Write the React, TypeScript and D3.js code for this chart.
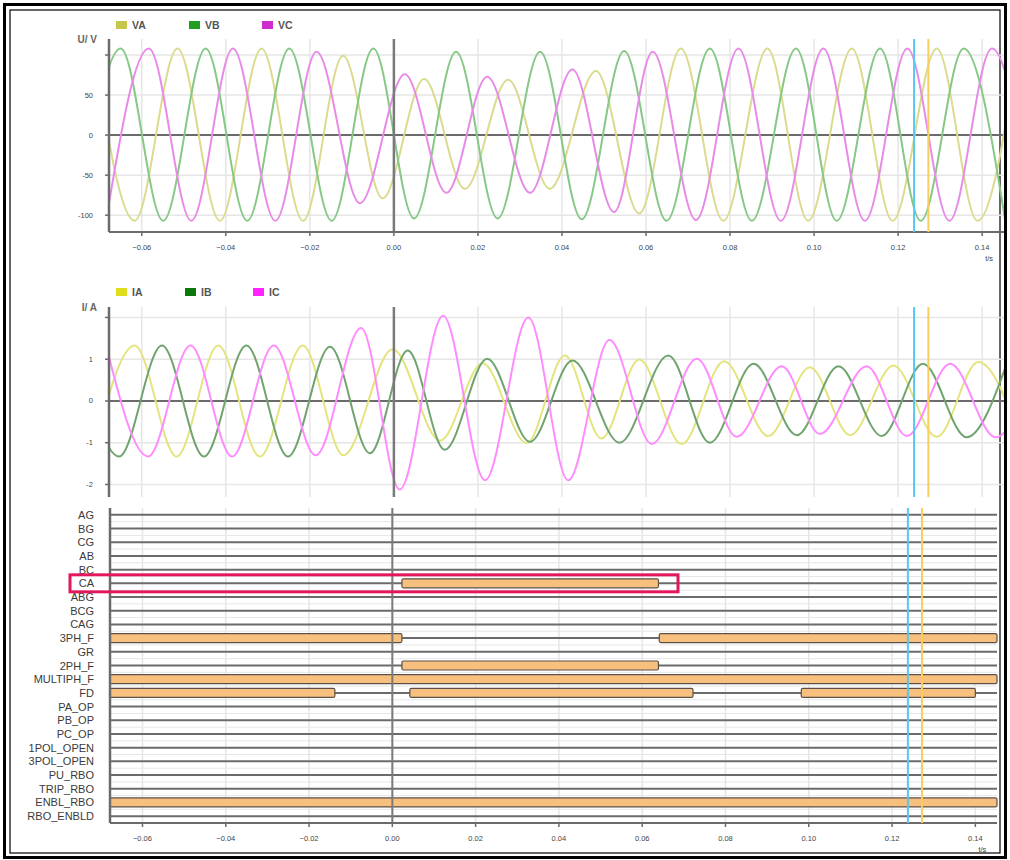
import React, { useRef, useEffect } from "react";
import * as d3 from "d3";

// record window and time axis (s)
const tRange: [number, number] = [-0.0678, 0.1452];
const timeTicks = [-0.06, -0.04, -0.02, 0, 0.02, 0.04, 0.06, 0.08, 0.1, 0.12, 0.14];
const cursorTimes = [0.1238, 0.1272];

// voltage waveforms: peaks and troughs [t, V]
const VA: [number, number][] = [
  [-0.0715, 108], [-0.0617, -107], [-0.0515, 108], [-0.0414, -107], [-0.0315, 108], [-0.0216, -107],
  [-0.0121, 99], [-0.0027, -79], [0.0072, 70], [0.0169, -67], [0.0272, 69], [0.0371, -67],
  [0.0481, 80], [0.0584, -98], [0.0683, 108], [0.0784, -107], [0.0889, 108], [0.0986, -107],
  [0.109, 108], [0.1187, -107], [0.1292, 108], [0.1389, -107], [0.1485, 108],
];
const VB: [number, number][] = [
  [-0.075, -107], [-0.065, 108], [-0.0549, -107], [-0.0448, 108], [-0.0349, -107], [-0.0249, 108],
  [-0.0148, -107], [-0.0049, 108], [0.0048, -104], [0.0148, 104], [0.0247, -104], [0.0348, 104],
  [0.0447, -105], [0.0548, 105], [0.0649, -107], [0.0752, 108], [0.0852, -107], [0.0957, 108],
  [0.1054, -107], [0.1157, 108], [0.1254, -107], [0.1356, 108], [0.1455, -107],
];
const VC: [number, number][] = [
  [-0.0685, -107], [-0.0583, 108], [-0.0482, -107], [-0.0383, 108], [-0.0282, -107], [-0.0184, 104],
  [-0.0081, -85], [0.0026, 76], [0.0125, -72], [0.0222, 73], [0.0324, -72], [0.0425, 82],
  [0.0524, -96], [0.0616, 104], [0.0719, -106], [0.082, 108], [0.0921, -107], [0.1022, 108],
  [0.1121, -107], [0.1222, 108], [0.1322, -107], [0.1423, 108], [0.1523, -107],
];

// current waveforms [t, A]
const IA: [number, number][] = [
  [-0.0717, -1.33], [-0.0617, 1.33], [-0.0517, -1.33], [-0.0418, 1.33], [-0.0319, -1.33], [-0.0217, 1.33],
  [-0.012, -1.3], [-0.0003, 1.24], [0.011, -0.95], [0.0211, 0.9], [0.0316, -1.01], [0.0407, 1.09],
  [0.0494, -0.9], [0.0584, 0.99], [0.0685, -1.03], [0.0786, 0.95], [0.0891, -0.84], [0.099, 0.81],
  [0.1086, -0.82], [0.1189, 0.85], [0.1292, -0.86], [0.1391, 0.93], [0.149, -0.86],
];
const IB: [number, number][] = [
  [-0.0754, 1.33], [-0.0654, -1.33], [-0.0552, 1.33], [-0.0452, -1.33], [-0.0351, 1.33], [-0.0252, -1.33],
  [-0.0152, 1.3], [-0.0057, -1.25], [0.0033, 1.21], [0.0121, -1.17], [0.0222, 1.01], [0.0324, -0.98],
  [0.0425, 0.97], [0.0537, -1.0], [0.0653, 1.09], [0.0752, -1.0], [0.0856, 0.89], [0.0959, -0.82],
  [0.1058, 0.83], [0.1161, -0.84], [0.1259, 0.89], [0.1363, -0.87], [0.146, 0.93],
];
const IC: [number, number][] = [
  [-0.0685, 1.33], [-0.0585, -1.33], [-0.0484, 1.33], [-0.0385, -1.33], [-0.0286, 1.33], [-0.0186, -1.3],
  [-0.0078, 1.75], [0.0014, -2.12], [0.0117, 2.04], [0.0217, -1.9], [0.032, 2.0], [0.0415, -1.9],
  [0.0513, 1.46], [0.0614, -1.03], [0.0721, 1.01], [0.0816, -0.86], [0.0923, 0.83], [0.1014, -0.79],
  [0.1125, 0.83], [0.1221, -0.84], [0.1324, 0.89], [0.1432, -0.87], [0.153, 0.9],
];

const voltNames = ["VA", "VB", "VC"];
const voltTicks = [-100, -50, 0, 50, 100];
const voltLabels = ["-100", "-50", "0", "50", ""];
const currNames = ["IA", "IB", "IC"];
const currTicks = [-2, -1, 0, 1, 2];
const currLabels = ["-2", "-1", "0", "1", ""];

// digital channels
const channels = [
  "AG", "BG", "CG", "AB", "BC", "CA", "ABG", "BCG", "CAG", "3PH_F", "GR", "2PH_F",
  "MULTIPH_F", "FD", "PA_OP", "PB_OP", "PC_OP", "1POL_OPEN", "3POL_OPEN", "PU_RBO",
  "TRIP_RBO", "ENBL_RBO", "RBO_ENBLD",
];
const barChannel = ["CA", "3PH_F", "3PH_F", "2PH_F", "MULTIPH_F", "FD", "FD", "FD", "ENBL_RBO"];
const barStart = [0.0023, -0.0678, 0.0641, 0.0023, -0.0678, -0.0678, 0.0042, 0.0982, -0.0678];
const barEnd = [0.0639, 0.0023, 0.1452, 0.0639, 0.1452, -0.0138, 0.0722, 0.14, 0.1452];
const markedChannel = "CA";
const markedUntil = 0.0686;

const FONT = "'Liberation Sans', Arial, sans-serif";
const AXIS = "#6b6b6b";
const GRID = "#e6e6e6";
const cursorColors = ["#55c8f2", "#f9cd5e"];
const fmt = d3.format(".2f");

type Box = { left: number; right: number; top: number; bottom: number };

function drawCursors(g: any, x: any, box: Box) {
  cursorTimes.forEach((t, i) => {
    g.append("line")
      .attr("x1", x(t)).attr("x2", x(t))
      .attr("y1", box.top).attr("y2", box.bottom)
      .attr("stroke", cursorColors[i]).attr("stroke-width", 2);
  });
}

function drawTimeAxis(g: any, x: any, y0: number, box: Box) {
  g.selectAll(null).data(timeTicks).enter().append("line")
    .attr("x1", (d: number) => x(d)).attr("x2", (d: number) => x(d))
    .attr("y1", y0).attr("y2", y0 + 4)
    .attr("stroke", AXIS).attr("stroke-width", 1.5);
  g.selectAll(null).data(timeTicks).enter().append("text")
    .attr("x", (d: number) => x(d)).attr("y", y0 + 18)
    .attr("text-anchor", "middle")
    .style("font-family", FONT).style("font-size", "7.5px").style("fill", "#444")
    .text((d: number) => fmt(d));
  g.append("text")
    .attr("x", x(0.14) + 7).attr("y", y0 + 29)
    .attr("text-anchor", "middle")
    .style("font-family", FONT).style("font-size", "7.5px").style("fill", "#444")
    .text("t/s");
}

function drawAnalog(svg: any, id: string, box: Box, yDomain: [number, number], yTicks: number[],
  yLabels: string[], series: [number, number][][], lineColors: string[], names: string[],
  keyColors: string[], keyX: number[], keyY: number, title: string, withTime: boolean) {
  const x = d3.scaleLinear().domain(tRange).range([box.left, box.right]);
  const y = d3.scaleLinear().domain(yDomain).range([box.bottom, box.top]);
  const g = svg.append("g");

  g.selectAll(null).data(timeTicks).enter().append("line")
    .attr("x1", (d: number) => x(d)).attr("x2", (d: number) => x(d))
    .attr("y1", box.top).attr("y2", box.bottom)
    .attr("stroke", GRID).attr("stroke-width", 1.5);
  g.selectAll(null).data(yTicks.filter((v) => v !== 0)).enter().append("line")
    .attr("x1", box.left).attr("x2", box.right)
    .attr("y1", (d: number) => y(d)).attr("y2", (d: number) => y(d))
    .attr("stroke", GRID).attr("stroke-width", 1.5);

  svg.append("clipPath").attr("id", id).append("rect")
    .attr("x", box.left).attr("y", box.top)
    .attr("width", box.right - box.left).attr("height", box.bottom - box.top);

  const line = d3.line<[number, number]>()
    .x((d) => x(d[0])).y((d) => y(d[1]))
    .curve(d3.curveMonotoneX);

  // zero line
  g.append("line")
    .attr("x1", box.left).attr("x2", box.right)
    .attr("y1", y(0)).attr("y2", y(0))
    .attr("stroke", AXIS).attr("stroke-width", 2);

  series.forEach((s, i) => {
    g.append("path").attr("d", line(s)).attr("fill", "none")
      .attr("stroke", lineColors[i]).attr("stroke-width", 2)
      .attr("clip-path", `url(#${id})`);
  });

  // fault instant
  g.append("line")
    .attr("x1", x(0)).attr("x2", x(0)).attr("y1", box.top).attr("y2", box.bottom)
    .attr("stroke", "#7a7a7a").attr("stroke-width", 2.5);

  // y axis
  g.append("line")
    .attr("x1", box.left).attr("x2", box.left).attr("y1", box.top).attr("y2", box.bottom)
    .attr("stroke", AXIS).attr("stroke-width", 2.5);
  g.selectAll(null).data(yTicks).enter().append("line")
    .attr("x1", box.left - 4).attr("x2", box.left)
    .attr("y1", (d: number) => y(d)).attr("y2", (d: number) => y(d))
    .attr("stroke", AXIS).attr("stroke-width", 1.5);
  g.selectAll(null).data(yTicks).enter().append("text")
    .attr("x", box.left - 16).attr("y", (d: number) => y(d) + 2.5)
    .attr("text-anchor", "end")
    .style("font-family", FONT).style("font-size", "7.5px").style("fill", "#444")
    .text((d: number, i: number) => yLabels[i]);
  g.append("text")
    .attr("x", box.left - 12).attr("y", box.top + 4)
    .attr("text-anchor", "end")
    .style("font-family", FONT).style("font-size", "10px").style("font-weight", "600").style("fill", "#666")
    .text(title);

  if (withTime) {
    g.append("line")
      .attr("x1", box.left).attr("x2", box.right).attr("y1", box.bottom).attr("y2", box.bottom)
      .attr("stroke", AXIS).attr("stroke-width", 2);
    drawTimeAxis(g, x, box.bottom, box);
  }

  drawCursors(g, x, box);

  // legend
  names.forEach((n, i) => {
    g.append("rect").attr("x", keyX[i]).attr("y", keyY).attr("width", 11).attr("height", 8)
      .attr("fill", keyColors[i]);
    g.append("text").attr("x", keyX[i] + 16).attr("y", keyY + 8)
      .style("font-family", FONT).style("font-size", "10.5px").style("font-weight", "600").style("fill", "#555")
      .text(n);
  });
}

function drawDigital(svg: any, box: Box) {
  const x = d3.scaleLinear().domain(tRange).range([box.left, box.right]);
  const y = d3.scaleBand<string>().domain(channels).range([box.top, box.bottom]);
  const mid = (c: string) => (y(c) as number) + y.bandwidth() / 2;
  const g = svg.append("g");

  g.selectAll(null).data(timeTicks).enter().append("line")
    .attr("x1", (d: number) => x(d)).attr("x2", (d: number) => x(d))
    .attr("y1", box.top).attr("y2", box.bottom)
    .attr("stroke", GRID).attr("stroke-width", 1.5);
  g.selectAll(null).data(channels).enter().append("line")
    .attr("x1", box.left).attr("x2", box.right)
    .attr("y1", (d: string) => (y(d) as number) + y.bandwidth())
    .attr("y2", (d: string) => (y(d) as number) + y.bandwidth())
    .attr("stroke", GRID).attr("stroke-width", 1);
  g.selectAll(null).data(channels).enter().append("line")
    .attr("x1", box.left).attr("x2", box.right)
    .attr("y1", (d: string) => mid(d)).attr("y2", (d: string) => mid(d))
    .attr("stroke", AXIS).attr("stroke-width", 2);

  g.selectAll(null).data(barChannel).enter().append("rect")
    .attr("x", (d: string, i: number) => x(barStart[i]))
    .attr("y", (d: string) => mid(d) - 4.5)
    .attr("width", (d: string, i: number) => x(barEnd[i]) - x(barStart[i]))
    .attr("height", 9).attr("rx", 1.5)
    .attr("fill", "#f8c07e").attr("stroke", "#5b5048").attr("stroke-width", 1.2);

  g.selectAll(null).data(channels).enter().append("text")
    .attr("x", box.left - 16).attr("y", (d: string) => mid(d) + 4)
    .attr("text-anchor", "end")
    .style("font-family", FONT).style("font-size", "11px").style("fill", "#3a3a3a")
    .text((d: string) => d);

  g.append("line")
    .attr("x1", x(0)).attr("x2", x(0)).attr("y1", box.top).attr("y2", box.bottom)
    .attr("stroke", "#7a7a7a").attr("stroke-width", 2);
  g.append("line")
    .attr("x1", box.left).attr("x2", box.left).attr("y1", box.top).attr("y2", box.bottom)
    .attr("stroke", AXIS).attr("stroke-width", 2.5);
  g.append("line")
    .attr("x1", box.left).attr("x2", box.right).attr("y1", box.bottom).attr("y2", box.bottom)
    .attr("stroke", AXIS).attr("stroke-width", 2);
  drawTimeAxis(g, x, box.bottom, box);
  drawCursors(g, x, box);

  // highlight around the CA channel
  g.append("rect")
    .attr("x", 70).attr("y", mid(markedChannel) - 8.5)
    .attr("width", x(markedUntil) - 70).attr("height", 17)
    .attr("fill", "none").attr("stroke", "#e3185c").attr("stroke-width", 3);
}

const App = () => {
  const ref = useRef<SVGSVGElement>(null);

  useEffect(() => {
    const svg = d3.select(ref.current);
    svg.selectAll("*").remove();

    // double frame
    svg.append("rect").attr("x", 4.5).attr("y", 4.5).attr("width", 1001).attr("height", 853)
      .attr("fill", "none").attr("stroke", "#000").attr("stroke-width", 3);
    svg.append("rect").attr("x", 10).attr("y", 10).attr("width", 990).attr("height", 843)
      .attr("fill", "none").attr("stroke", "#000").attr("stroke-width", 1.2);

    drawAnalog(svg, "clipV", { left: 109, right: 1004, top: 39, bottom: 232 }, [-121, 120],
      voltTicks, voltLabels, [VA, VB, VC], ["#dadb8e", "#86c886", "#e88be8"], voltNames,
      ["#c6c64a", "#1f9e1f", "#cf2bcf"], [116, 189, 262], 21, "U/ V", true);
    drawAnalog(svg, "clipI", { left: 109, right: 1004, top: 307, bottom: 497 }, [-2.3, 2.25],
      currTicks, currLabels, [IA, IB, IC], ["#e4e47e", "#6fa36f", "#ff8cff"], currNames,
      ["#dede1e", "#0c780c", "#ff22ff"], [116, 185, 253], 288, "I/ A", false);
    drawDigital(svg, { left: 110, right: 997, top: 508, bottom: 823 });
  }, []);

  return (
    <svg ref={ref} width={1010} height={860}
      style={{ position: "absolute", left: 0, top: 0, background: "#fff" }} />
  );
};

export default App;
